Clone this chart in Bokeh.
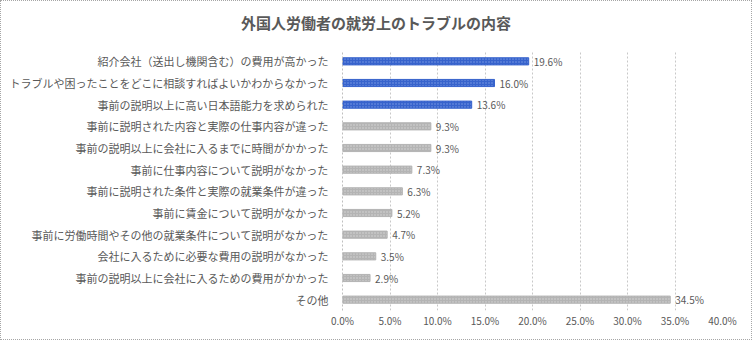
from bokeh.plotting import figure
from bokeh.models import ColumnDataSource, FactorRange, Range1d, FixedTicker, CustomJSTickFormatter, Div
from bokeh.layouts import column
from bokeh.core.properties import value
from bokeh.embed import file_html
from bokeh.resources import INLINE

categories = [
    "紹介会社（送出し機関含む）の費用が高かった",
    "トラブルや困ったことをどこに相談すればよいかわからなかった",
    "事前の説明以上に高い日本語能力を求められた",
    "事前に説明された内容と実際の仕事内容が違った",
    "事前の説明以上に会社に入るまでに時間がかかった",
    "事前に仕事内容について説明がなかった",
    "事前に説明された条件と実際の就業条件が違った",
    "事前に賃金について説明がなかった",
    "事前に労働時間やその他の就業条件について説明がなかった",
    "会社に入るために必要な費用の説明がなかった",
    "事前の説明以上に会社に入るための費用がかかった",
    "その他",
]
values = [19.6, 16.0, 13.6, 9.3, 9.3, 7.3, 6.3, 5.2, 4.7, 3.5, 2.9, 34.5]
highlight = [True, True, True] + [False] * 9
title_text = "外国人労働者の就労上のトラブルの内容"

FONT = "Noto Sans CJK JP"
TXT = "#595959"

colors = ["#3763CC" if h else "#B4B4B4" for h in highlight]
hatch_colors = ["#7D9CE6" if h else "#D6D6D6" for h in highlight]
labels = [f"{v:.1f}%" for v in values]
src = ColumnDataSource(dict(cat=categories, val=values, color=colors,
                            hcolor=hatch_colors, label=labels))

TITLE_H = 44
p = figure(
    width=750, height=338 - TITLE_H,
    y_range=FactorRange(*reversed(categories)),
    x_range=Range1d(0, 40),
    output_backend="svg", toolbar_location=None,
    min_border_left=341, min_border_right=29,
    min_border_top=49 - TITLE_H, min_border_bottom=29,
)
p.margin = 0
p.outline_line_color = None

p.hbar(y="cat", right="val", left=0, height=0.33, fill_color="color",
       line_color="color", hatch_pattern="dot", hatch_color="hcolor",
       hatch_scale=3, hatch_weight=1, source=src)
p.text(x="val", y="cat", text="label", source=src, x_offset=5,
       text_baseline="middle", text_align="left",
       text_font=value(FONT), text_font_size="10px", text_color=TXT)

div = Div(text=title_text, width=750, height=TITLE_H, margin=0,
          styles={"text-align": "center", "font-family": FONT,
                  "font-size": "15px", "font-weight": "bold", "color": TXT,
                  "line-height": f"{TITLE_H}px", "width": "750px"})

p.xaxis.ticker = FixedTicker(ticks=[0, 5, 10, 15, 20, 25, 30, 35, 40])
p.xaxis.formatter = CustomJSTickFormatter(code="return tick.toFixed(1) + '%';")
p.xaxis.axis_line_color = None
p.xaxis.major_tick_line_color = None
p.xaxis.minor_tick_line_color = None
p.xaxis.major_tick_out = 0
p.xaxis.major_tick_in = 0
p.xaxis.major_label_text_font = FONT
p.xaxis.major_label_text_font_size = "10px"
p.xaxis.major_label_text_color = TXT
p.xaxis.major_label_standoff = 2

p.yaxis.axis_line_color = "#BFBFBF"
p.yaxis.axis_line_dash = "2 2"
p.yaxis.major_tick_line_color = None
p.yaxis.minor_tick_line_color = None
p.yaxis.major_label_text_font = FONT
p.yaxis.major_label_text_font_size = "11px"
p.yaxis.major_label_text_color = TXT
p.yaxis.major_label_standoff = 8

p.ygrid.grid_line_color = None
p.xgrid.grid_line_color = "#C8C8C8"
p.xgrid.grid_line_dash = "2 2"

layout = column(div, p, spacing=0, margin=0)
layout.styles = {"border": "1px dotted #A6A6A6"}

open("out.html", "w").write(file_html(layout, INLINE))
